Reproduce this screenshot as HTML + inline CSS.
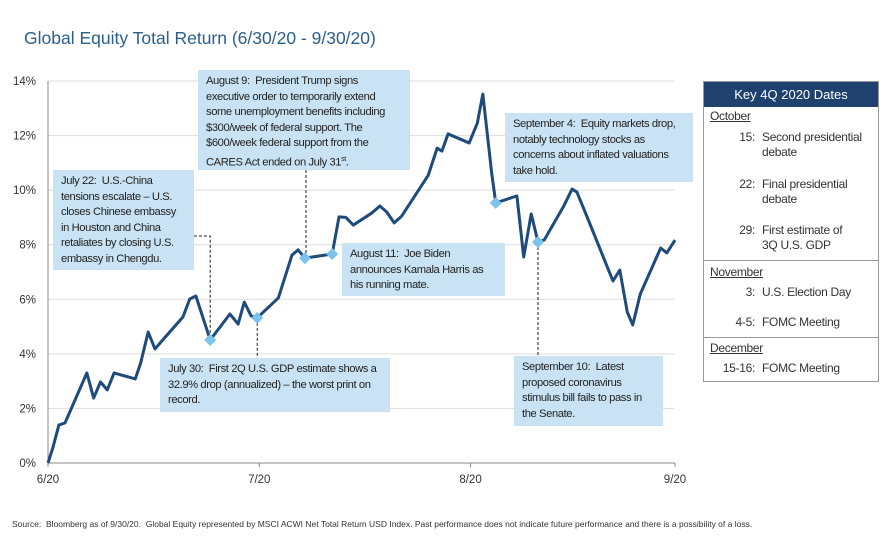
<!DOCTYPE html>
<html><head><meta charset="utf-8"><style>
body{margin:0;background:#fff;}
#wrap{position:relative;width:886px;height:546px;overflow:hidden;font-family:"Liberation Sans",sans-serif;}
.box{position:absolute;background:#c9e3f4;color:#222;font-size:11.2px;line-height:15.5px;padding:4px 8px;box-sizing:border-box;letter-spacing:-0.4px;}
.pt{position:absolute;font-size:12px;color:#333;white-space:nowrap;letter-spacing:-0.3px;}
.num{text-align:right;width:50px;left:705px;}
</style></head><body>
<div id="wrap">
<div style="position:absolute;left:24px;top:28px;font-size:17.5px;color:#2b5f8e;letter-spacing:0px;">Global Equity Total Return (6/30/20 - 9/30/20)</div>
<svg id="chart" width="886" height="546" style="position:absolute;left:0;top:0"></svg>

<div class="box" style="left:198px;top:70px;width:212px;height:100px;">August 9: &nbsp;President Trump signs executive order to temporarily extend some unemployment benefits including $300/week of federal support. The $600/week federal support from the CARES Act ended on July 31<sup style="font-size:7px">st</sup>.</div>
<div class="box" style="left:53px;top:170px;width:141px;height:100px;">July 22: &nbsp;U.S.-China tensions escalate – U.S. closes Chinese embassy in Houston and China retaliates by closing U.S. embassy in Chengdu.</div>
<div class="box" style="left:342px;top:243px;width:163px;height:53px;">August 11: &nbsp;Joe Biden announces Kamala Harris as his running mate.</div>
<div class="box" style="left:505px;top:113px;width:188px;height:69px;padding-right:4px;">September 4: &nbsp;Equity markets drop, notably technology stocks as concerns about inflated valuations take hold.</div>
<div class="box" style="left:160px;top:358px;width:230px;height:54px;padding-right:4px;">July 30: &nbsp;First 2Q U.S. GDP estimate shows a 32.9% drop (annualized) – the worst print on record.</div>
<div class="box" style="left:514px;top:356px;width:149px;height:70px;">September 10: &nbsp;Latest proposed coronavirus stimulus bill fails to pass in the Senate.</div>

<div style="position:absolute;left:703px;top:81px;width:176px;height:301px;border:1px solid #999;box-sizing:border-box;">
<div style="background:#1f4170;color:#fff;font-size:13px;text-align:center;height:25px;line-height:25px;">Key 4Q 2020 Dates</div>
<div style="position:absolute;left:0;right:0;top:178px;border-top:1px solid #999"></div>
<div style="position:absolute;left:0;right:0;top:255px;border-top:1px solid #999"></div>
</div>
<div class="pt" style="left:710px;top:109px;text-decoration:underline">October</div>
<div class="pt num" style="top:130px">15:</div><div class="pt" style="left:762px;top:130px">Second presidential</div>
<div class="pt" style="left:762px;top:145px">debate</div>
<div class="pt num" style="top:177px">22:</div><div class="pt" style="left:762px;top:177px">Final presidential</div>
<div class="pt" style="left:762px;top:192px">debate</div>
<div class="pt num" style="top:223px">29:</div><div class="pt" style="left:762px;top:223px">First estimate of</div>
<div class="pt" style="left:762px;top:238px">3Q U.S. GDP</div>
<div class="pt" style="left:710px;top:265px;text-decoration:underline">November</div>
<div class="pt num" style="top:285px">3:</div><div class="pt" style="left:762px;top:285px">U.S. Election Day</div>
<div class="pt num" style="top:315px">4-5:</div><div class="pt" style="left:762px;top:315px">FOMC Meeting</div>
<div class="pt" style="left:710px;top:341px;text-decoration:underline">December</div>
<div class="pt num" style="top:361px">15-16:</div><div class="pt" style="left:762px;top:361px">FOMC Meeting</div>

<div style="position:absolute;left:12px;top:519px;font-size:8.5px;color:#333;white-space:nowrap;">Source: &nbsp;Bloomberg as of 9/30/20. &nbsp;Global Equity represented by MSCI ACWI Net Total Return USD Index. Past performance does not indicate future performance and there is a possibility of a loss.</div>
</div>
<script>
const days=[0,0.7,1.6,2.5,5.7,6.7,7.7,8.7,9.7,12.8,13.6,14.7,15.7,16.7,19.8,20.8,21.7,23.8,26.7,27.9,28.8,29.8,30.7,33.8,35.8,36.7,37.7,41.7,42.7,43.7,44.8,47.5,48.7,49.7,50.8,51.9,55.8,57.1,57.8,58.7,61.8,63.0,63.8,65.1,65.7,68.8,69.8,70.9,71.9,72.8,75.6,76.9,77.6,79.1,82.9,83.9,85.0,85.8,86.9,89.9,90.8,92];
const returns=[0,0.55,1.39,1.47,3.30,2.38,2.97,2.68,3.30,3.08,3.67,4.80,4.18,4.47,5.35,6.01,6.12,4.51,5.46,5.09,5.90,5.39,5.32,6.05,7.62,7.81,7.51,7.66,9.02,9.00,8.72,9.16,9.42,9.20,8.80,9.05,10.55,11.54,11.43,12.06,11.73,12.46,13.52,10.63,9.53,9.79,7.55,9.13,8.10,8.17,9.38,10.04,9.93,9.02,6.67,7.07,5.53,5.06,6.19,7.88,7.70,8.17];
const markerIdx=[17,22,26,27,44,48];
const yTicks=[0,2,4,6,8,10,12,14];
const xTickDays=[0,31,62,92];
const xTickLabels=["6/20","7/20","8/20","9/20"];
const NS="http://www.w3.org/2000/svg";
const svg=document.getElementById('chart');
const X0=48,X1=675,Y0=463,Y1=81;
function sx(d){return X0+(d/92)*(X1-X0);}
function sy(v){return Y0-(v/14)*(Y0-Y1);}
function mk(t,a){const e=document.createElementNS(NS,t);for(const k in a)e.setAttribute(k,a[k]);svg.appendChild(e);return e;}
yTicks.forEach(v=>{
  if(v>0){const g=mk('line',{x1:X0,x2:X1,y1:sy(v),y2:sy(v),stroke:'#ddd','stroke-width':1});
  
  }
  const t=mk('text',{x:36,y:sy(v)+4,'text-anchor':'end','font-size':11.5,fill:'#333','font-family':'Liberation Sans, sans-serif'});
  t.textContent=v+'%';
  
  
});
const ax=mk('line',{x1:X0,x2:X0,y1:Y1,y2:Y0,stroke:'#888','stroke-width':1});


const bx=mk('line',{x1:X0,x2:X1,y1:Y0,y2:Y0,stroke:'#888','stroke-width':1});


xTickDays.forEach((d,i)=>{
  mk('line',{x1:sx(d),x2:sx(d),y1:Y0,y2:Y0+4,stroke:'#888'});
  const t=mk('text',{x:sx(d),y:483,'text-anchor':'middle','font-size':11.5,fill:'#333','font-family':'Liberation Sans, sans-serif'});
  t.textContent=xTickLabels[i];
  
  
});
const dash={stroke:'#222','stroke-width':1,'stroke-dasharray':'3,2',fill:'none'};
function lead(pts){const p=mk('polyline',Object.assign({points:pts},dash));

}
const m=i=>[sx(days[markerIdx[i]]),sy(returns[markerIdx[i]])];
lead(`194,236 ${m(0)[0]},236 ${m(0)[0]},${m(0)[1]}`);
lead(`${m(1)[0]},${m(1)[1]} ${m(1)[0]},358`);
lead(`306,170 306,${m(2)[1]}`);
lead(`${m(5)[0]},${m(5)[1]} ${m(5)[0]},356`);
const line=mk('polyline',{points:days.map((d,i)=>sx(d)+','+sy(returns[i])).join(' '),fill:'none',stroke:'#1f4a7c','stroke-width':3,'stroke-linejoin':'round'});


markerIdx.forEach(i=>{
  const x=sx(days[i]),y=sy(returns[i]);
  const r=mk('polygon',{points:`${x},${y-6} ${x+6},${y} ${x},${y+6} ${x-6},${y}`,fill:'#7cc3ec'});
  
  
});
</script>
</body></html>
